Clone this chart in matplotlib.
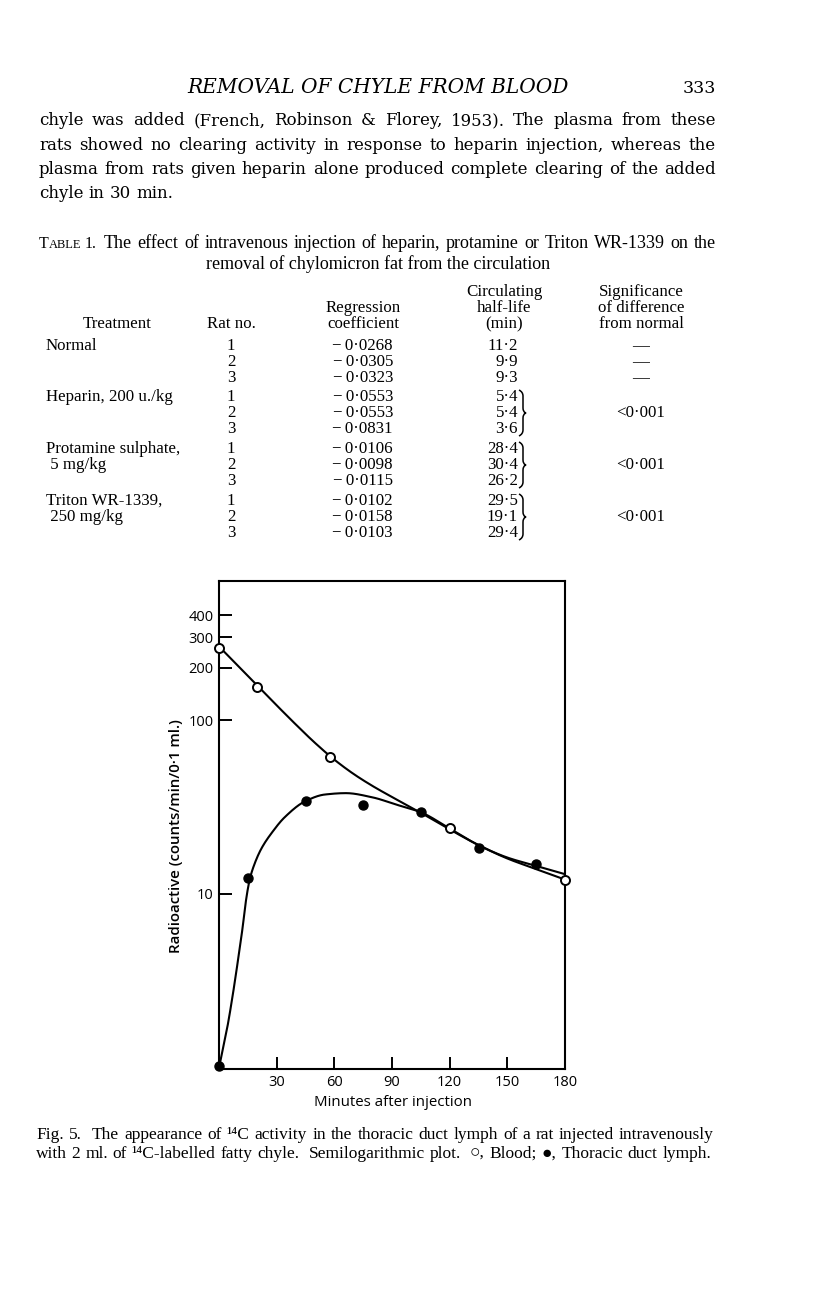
import numpy as np
import matplotlib
matplotlib.use("Agg")
import matplotlib.pyplot as plt
from matplotlib.path import Path
from matplotlib.patches import PathPatch
from matplotlib.ticker import NullLocator, FixedLocator

# ---------------- data ----------------
header_title = "REMOVAL OF CHYLE FROM BLOOD"
page_number = "333"
body_lines = [
    "chyle was added (French, Robinson & Florey, 1953). The plasma from these",
    "rats showed no clearing activity in response to heparin injection, whereas the",
    "plasma from rats given heparin alone produced complete clearing of the added",
    "chyle in 30 min.",
]
table_caption_1 = "The effect of intravenous injection of heparin, protamine or Triton WR-1339 on the"
table_caption_2 = "removal of chylomicron fat from the circulation"

treatments = [["Normal"], ["Heparin, 200 u./kg"], ["Protamine sulphate,", " 5 mg/kg"],
              ["Triton WR-1339,", " 250 mg/kg"]]
rat_numbers = ["1", "2", "3"]
regression = [["−\u20090·0268", "−\u20090·0305", "−\u20090·0323"],
              ["−\u20090·0553", "−\u20090·0553", "−\u20090·0831"],
              ["−\u20090·0106", "−\u20090·0098", "−\u20090·0115"],
              ["−\u20090·0102", "−\u20090·0158", "−\u20090·0103"]]
half_life = [["11·2", "9·9", "9·3"],
             ["5·4", "5·4", "3·6"],
             ["28·4", "30·4", "26·2"],
             ["29·5", "19·1", "29·4"]]
significance = [["—", "—", "—"], "<0·001", "<0·001", "<0·001"]

# chart data (minutes, counts/min/0.1 ml)
blood_x = [0, 20, 58, 120, 180]
blood_y = [261, 155, 61, 23.9, 12.1]
lymph_x = [0, 15, 45, 75, 105, 135, 165]
lymph_y = [1.03, 12.3, 34.2, 32.4, 29.5, 18.5, 14.8]
# hand-drawn fitted curves (knots)
blood_curve_x = [0, 20, 40, 50, 60, 70, 80, 90, 105, 120, 135, 150, 165, 180]
blood_curve_y = [264.9, 157.4, 94.2, 73.8, 59.2, 49.0, 41.7, 36.1, 29.3, 23.5, 19.1, 16.0, 13.9, 12.1]
lymph_curve_x = [0, 4.4, 7.3, 9.9, 12.2, 14.2, 16, 18.2, 22, 28, 34, 45, 55, 66, 80, 92, 105, 120, 135,
                 150, 165, 180]
lymph_curve_y = [1.0, 1.73, 2.69, 4.18, 6.31, 9.44, 12.16, 14.6, 18.2, 22.9, 27.5, 34.2, 37.3, 38.0,
                 35.9, 32.7, 29.5, 23.8, 19.1, 16.2, 14.5, 13.0]
x_ticks = [30, 60, 90, 120, 150, 180]
y_ticks = [10, 100, 200, 300, 400]
y_tick_labels = ["10", "100", "200", "300", "400"]
x_label = "Minutes after injection"
y_label = "Radioactive (counts/min/0·1 ml.)"
caption_lines = [
    "Fig. 5.  The appearance of ¹⁴C activity in the thoracic duct lymph of a rat injected intravenously",
    "with 2 ml. of ¹⁴C-labelled fatty chyle.  Semilogarithmic plot.  ○, Blood; ●, Thoracic duct lymph.",
]

# ---------------- figure ----------------
W, H = 816, 1296
fig = plt.figure(figsize=(W / 100, H / 100), dpi=100)
fig.patch.set_facecolor("white")
renderer = fig.canvas.get_renderer()

BODY = "DejaVu Serif"
TAB = "Liberation Serif"


def P(x, y):
    return x / W, 1 - y / H


def width_of(s, size, family, **kw):
    t = fig.text(0, 0, s, fontsize=size, family=family, **kw)
    w = t.get_window_extent(renderer).width
    t.remove()
    return w


def put(x, y, s, size, family, ha="left", va="baseline", **kw):
    return fig.text(*P(x, y), s, fontsize=size, family=family, ha=ha, va=va, **kw)


def fit_size(lines, target, size0, family, **kw):
    sp = width_of("a a", size0, family, **kw) - width_of("aa", size0, family, **kw)
    best = 1e9
    for ln in lines:
        words = ln.split(" ")
        nat = sum(width_of(w, size0, family, **kw) for w in words if w) + sp * (len(words) - 1)
        best = min(best, target / nat)
    return size0 * best * 0.985


def justify(line, x0, x1, y, size, family, last=False, **kw):
    words = [w for w in line.split(" ")]
    ws = [width_of(w, size, family, **kw) if w else 0 for w in words]
    sp = width_of("a a", size, family, **kw) - width_of("aa", size, family, **kw)
    if last or len(words) < 2:
        gap = sp
    else:
        gap = (x1 - x0 - sum(ws)) / (len(words) - 1)
    x = x0
    for w, wd in zip(words, ws):
        if w:
            put(x, y, w, size, family, **kw)
        x += wd + gap


# header
hs = 14.0
hw = width_of(header_title, hs, BODY, style="italic")
hs = hs * 383 / hw
put(378, 93, header_title, hs, BODY, ha="center", style="italic")
put(716, 93, page_number, 12.5, BODY, ha="right")

# body paragraph
bx0, bx1 = 39, 716
bsize = fit_size(body_lines[:3], bx1 - bx0, 12, BODY)
for i, (ln, yb) in enumerate(zip(body_lines, [125, 150, 174, 198])):
    justify(ln, bx0, bx1, yb, bsize, BODY, last=(i == 3))

# table caption with small caps "TABLE 1."
tsz = 11.5
xT = 39
put(xT, 248, "T", tsz, TAB)
wT = width_of("T", tsz, TAB)
put(xT + wT, 248, "ABLE", tsz * 0.78, TAB)
wA = width_of("ABLE", tsz * 0.78, TAB)
put(xT + wT + wA + 3, 248, "1.", tsz, TAB)
x_after = xT + wT + wA + 3 + width_of("1.", tsz, TAB) + 8
csz = fit_size([table_caption_1], bx1 - x_after, 11, TAB)
justify(table_caption_1, x_after, bx1, 248, csz, TAB)
put(378, 269, table_caption_2, csz, TAB, ha="center")

# table headers
ts = 12.2
put(117, 328, "Treatment", ts, TAB, ha="center")
put(231, 328, "Rat no.", ts, TAB, ha="center")
put(363, 312, "Regression", ts, TAB, ha="center")
put(363, 328, "coefficient", ts, TAB, ha="center")
put(504, 296, "Circulating", ts, TAB, ha="center")
put(504, 312, "half-life", ts, TAB, ha="center")
put(504, 328, "(min)", ts, TAB, ha="center")
put(641, 296, "Significance", ts, TAB, ha="center")
put(641, 312, "of difference", ts, TAB, ha="center")
put(641, 328, "from normal", ts, TAB, ha="center")


def brace(x, ytop, ybot):
    ym = (ytop + ybot) / 2
    d = 4.0
    pts = [P(x, ytop), P(x + d, ytop + 2), P(x + d, ytop + 6), P(x + d, ym - 5),
           P(x + d, ym - 1), P(x + d + 3, ym), P(x + d, ym + 1),
           P(x + d, ym + 5), P(x + d, ybot - 6), P(x + d, ybot - 2), P(x, ybot)]
    codes = [Path.MOVETO, Path.CURVE3, Path.CURVE3, Path.LINETO, Path.CURVE3, Path.CURVE3,
             Path.CURVE3, Path.CURVE3, Path.LINETO, Path.CURVE3, Path.CURVE3]
    patch = PathPatch(Path(pts, codes), transform=fig.transFigure, fill=False, lw=1.1, color="black")
    fig.patches.append(patch)


group_rows = [[350, 366, 382], [401, 417, 433], [453, 469, 485], [505, 521, 537]]
for g, rows in enumerate(group_rows):
    for k, yb in enumerate(rows):
        if k < len(treatments[g]):
            put(46, yb, treatments[g][k], ts, TAB)
        put(231, yb, rat_numbers[k], ts, TAB, ha="center")
        put(393, yb, regression[g][k], ts, TAB, ha="right")
        put(518, yb, half_life[g][k], ts, TAB, ha="right")
    if g == 0:
        for k, yb in enumerate(rows):
            put(641, yb, significance[0][k], ts, TAB, ha="center")
    else:
        brace(519, rows[0] - 11, rows[2] + 3)
        put(641, rows[1], significance[g], ts, TAB, ha="center")


# ---------------- chart ----------------
def pchip(xk, yk, xs):
    xk = np.asarray(xk, float)
    yk = np.asarray(yk, float)
    h = np.diff(xk)
    dl = np.diff(yk) / h
    n = len(xk)
    m = np.zeros(n)
    for i in range(1, n - 1):
        if dl[i - 1] * dl[i] <= 0:
            m[i] = 0
        else:
            w1 = 2 * h[i] + h[i - 1]
            w2 = h[i] + 2 * h[i - 1]
            m[i] = (w1 + w2) / (w1 / dl[i - 1] + w2 / dl[i])
    m[0] = dl[0]
    m[-1] = dl[-1]
    idx = np.clip(np.searchsorted(xk, xs) - 1, 0, n - 2)
    t = (xs - xk[idx]) / h[idx]
    h00 = 2 * t ** 3 - 3 * t ** 2 + 1
    h10 = t ** 3 - 2 * t ** 2 + t
    h01 = -2 * t ** 3 + 3 * t ** 2
    h11 = t ** 3 - t ** 2
    return h00 * yk[idx] + h10 * h[idx] * m[idx] + h01 * yk[idx + 1] + h11 * h[idx] * m[idx + 1]


ax = fig.add_axes([219 / W, 1 - 1069 / H, (565 - 219) / W, (1069 - 581) / H])
ax.set_yscale("log")
ax.set_xlim(0, 180)
ax.set_ylim(0.986, 630)

xs = np.linspace(0, 180, 900)
ax.plot(xs, 10 ** pchip(blood_curve_x, np.log10(blood_curve_y), xs), color="black", lw=1.5)
ax.plot(xs, 10 ** pchip(lymph_curve_x, np.log10(lymph_curve_y), xs), color="black", lw=1.5)
ax.plot(lymph_x, lymph_y, "o", color="black", ms=6.5, clip_on=False, zorder=5)
ax.plot(blood_x, blood_y, "o", mfc="white", mec="black", mew=1.4, ms=6.5, clip_on=False, zorder=5)

ax.xaxis.set_major_locator(FixedLocator(x_ticks))
ax.set_xticklabels([str(v) for v in x_ticks])
ax.yaxis.set_major_locator(FixedLocator(y_ticks))
ax.yaxis.set_minor_locator(NullLocator())
ax.set_yticklabels(y_tick_labels)
ax.tick_params(direction="in", length=9, width=1.4, labelsize=10.5, pad=4)
for lab in ax.get_xticklabels() + ax.get_yticklabels():
    lab.set_family("Open Sans")
    lab.set_fontweight("medium")
for sp in ax.spines.values():
    sp.set_linewidth(1.5)

fig.text(*P(176, 836), y_label, rotation=90, ha="center", va="center",
         fontsize=10.8, family="Open Sans", fontweight="semibold")
fig.text(*P(393, 1102), x_label, ha="center", va="center",
         fontsize=10.8, family="Open Sans")

# caption
cx0, cx1 = 36, 714
csize2 = fit_size(caption_lines, cx1 - cx0, 10.5, TAB)
justify(caption_lines[0], cx0, cx1, 1139, csize2, TAB)
justify(caption_lines[1], cx0, 711, 1158, csize2, TAB)

fig.savefig("out.png", dpi=100, facecolor="white")
